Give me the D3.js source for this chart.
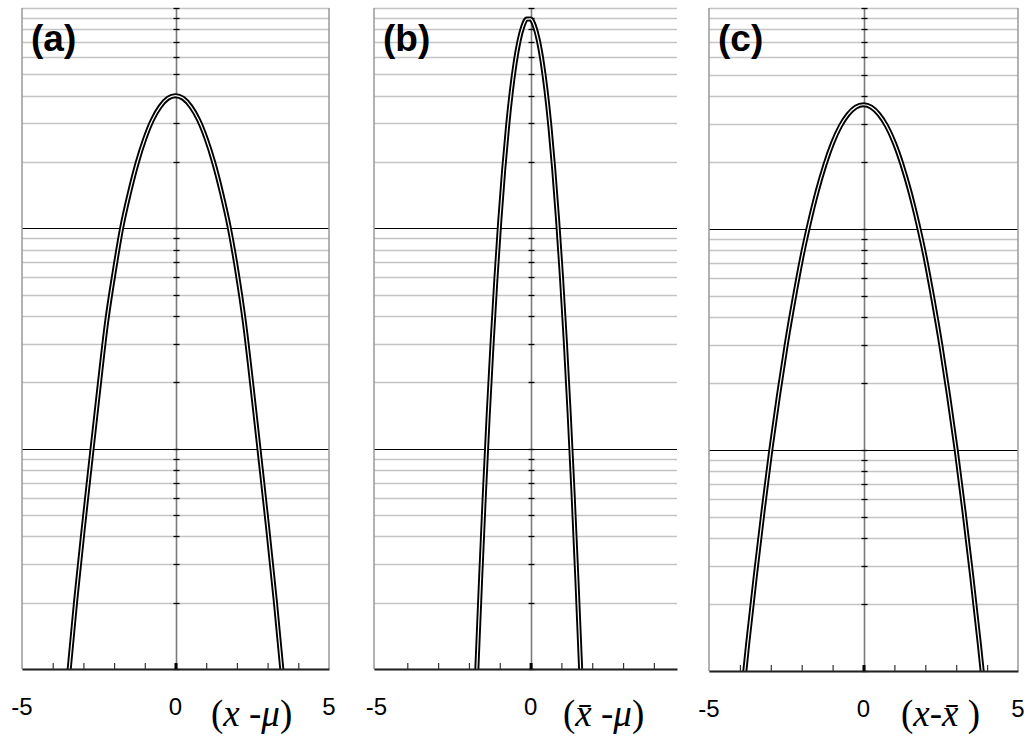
<!DOCTYPE html>
<html>
<head>
<meta charset="utf-8">
<script src="https://cdn.jsdelivr.net/npm/d3@7"></script>
<style>
  body { margin: 0; background: #fff; }
  svg { display: block; }
</style>
</head>
<body>
<script>
// values: density vs. deviation, log y axis
const xA = [-3.75, -3.5, -3.25, -3, -2.75, -2.5, -2.25, -2, -1.75, -1.5, -1.25, -1, -0.75, -0.5, -0.25,
  0, 0.25, 0.5, 0.75, 1, 1.25, 1.5, 1.75, 2, 2.25, 2.5, 2.75, 3, 3.25, 3.5, 3.75];
const yA = [0.00036, 0.00088, 0.00205, 0.0044, 0.0091, 0.0186, 0.037, 0.063, 0.101, 0.145, 0.198, 0.255, 0.311, 0.357, 0.389,
  0.400, 0.389, 0.357, 0.311, 0.255, 0.198, 0.145, 0.101, 0.064, 0.037, 0.0187, 0.0091, 0.0044, 0.00204, 0.00088, 0.00035];

const xB = [-2, -1.875, -1.75, -1.625, -1.5, -1.375, -1.25, -1.125, -1, -0.875, -0.75, -0.625, -0.5, -0.375, -0.25, -0.125,
  0, 0.125, 0.25, 0.375, 0.5, 0.625, 0.75, 0.875, 1, 1.125, 1.25, 1.375, 1.5, 1.625, 1.75];
const yB = [0.00011, 0.00033, 0.00095, 0.0025, 0.0062, 0.0142, 0.030, 0.059, 0.108, 0.183, 0.287, 0.418, 0.565, 0.709, 0.825, 0.891,
  0.892, 0.829, 0.715, 0.571, 0.424, 0.292, 0.186, 0.110, 0.0607, 0.031, 0.0146, 0.0064, 0.0026, 0.00099, 0.00035];

const xC = [-4.25, -4, -3.75, -3.5, -3.25, -3, -2.75, -2.5, -2.25, -2, -1.75, -1.5, -1.25, -1, -0.75, -0.5, -0.25,
  0, 0.25, 0.5, 0.75, 1, 1.25, 1.5, 1.75, 2, 2.25, 2.5, 2.75, 3, 3.25, 3.5, 3.75, 4, 4.25];
const yC = [0.00027, 0.00061, 0.00132, 0.0027, 0.0053, 0.0100, 0.0177, 0.030, 0.048, 0.074, 0.107, 0.148, 0.195, 0.245, 0.292, 0.330, 0.356,
  0.365, 0.356, 0.330, 0.292, 0.245, 0.195, 0.148, 0.107, 0.074, 0.048, 0.030, 0.0177, 0.0100, 0.0053, 0.0027, 0.00132, 0.00061, 0.00027];

const panelLabels = ['(a)', '(b)', '(c)'];
const tickLabelsA = [-5, 0, 5];
const tickLabelsB = [-5, 0];
const tickLabelsC = [-5, 0, 5];
const minorTicks = [-4, -3, -2, -1, 0, 1, 2, 3, 4];
const yDomain = [0.001, 1];

const width = 1028, height = 736;

const svg = d3.select('body')
  .append('svg')
  .attr('width', width)
  .attr('height', height);

const panels = [
  { label: panelLabels[0], xs: xA, ys: yA, ticks: tickLabelsA, xDom: [-5, 5], left: 22, right: 329, bottom: 669,
    frameRight: true, titleX: 211 },
  { label: panelLabels[1], xs: xB, ys: yB, ticks: tickLabelsB, xDom: [-5.08, 4.75], left: 374, right: 677, bottom: 669,
    frameRight: false, titleX: 563 },
  { label: panelLabels[2], xs: xC, ys: yC, ticks: tickLabelsC, xDom: [-5, 5], left: 709, right: 1018, bottom: 671,
    frameRight: true, titleX: 901 }
];

const plotTop = 8;

panels.forEach((p, i) => {
  let xScale = d3.scaleLinear().domain(p.xDom).range([p.left, p.right]);
  let yScale = d3.scaleLog().domain(yDomain).range([p.bottom, plotTop]);

  let g = svg.append('g');

  // grid lines, decades in black
  let gridVals = yScale.ticks();
  let isDecade = d => {
    let e = Math.log10(d);
    return Math.abs(e - Math.round(e)) < 1e-9 && d < 1 && d > 0.001;
  };
  g.selectAll('line.grid')
    .data(gridVals)
    .enter()
    .append('line')
    .attr('class', 'grid')
    .attr('x1', p.left)
    .attr('x2', p.right)
    .attr('y1', d => Math.round(yScale(d)) + 0.5)
    .attr('y2', d => Math.round(yScale(d)) + 0.5)
    .attr('stroke', d => isDecade(d) ? '#000' : '#c4c4c4')
    .attr('stroke-width', d => isDecade(d) ? 1 : 1.3);

  // frame sides
  g.append('line')
    .attr('x1', p.left).attr('x2', p.left)
    .attr('y1', plotTop).attr('y2', p.bottom)
    .attr('stroke', '#999').attr('stroke-width', 1.5);
  if (p.frameRight) {
    g.append('line')
      .attr('x1', p.right).attr('x2', p.right)
      .attr('y1', plotTop).attr('y2', p.bottom)
      .attr('stroke', '#999').attr('stroke-width', 1.5);
  }

  // vertical axis at zero
  let x0 = Math.round(xScale(0)) + 0.5;
  g.append('line')
    .attr('x1', x0).attr('x2', x0)
    .attr('y1', plotTop).attr('y2', p.bottom)
    .attr('stroke', '#7a7a7a').attr('stroke-width', 1.6);
  g.selectAll('line.ytick')
    .data(gridVals)
    .enter()
    .append('line')
    .attr('class', 'ytick')
    .attr('x1', x0 - 3).attr('x2', x0 + 3)
    .attr('y1', d => Math.round(yScale(d)) + 0.5)
    .attr('y2', d => Math.round(yScale(d)) + 0.5)
    .attr('stroke', '#000').attr('stroke-width', 1.3);

  // curve
  let clipId = 'clip' + i;
  svg.append('clipPath').attr('id', clipId)
    .append('rect')
    .attr('x', p.left).attr('y', plotTop - 4)
    .attr('width', p.right - p.left).attr('height', p.bottom - plotTop + 4);

  let pts = p.xs.map((x, k) => [x, p.ys[k]]);
  let line = d3.line()
    .x(d => xScale(d[0]))
    .y(d => yScale(d[1]))
    .curve(d3.curveMonotoneX);

  let cg = g.append('g').attr('clip-path', `url(#${clipId})`);
  cg.append('path')
    .datum(pts)
    .attr('d', line)
    .attr('fill', 'none')
    .attr('stroke', '#000')
    .attr('stroke-width', 5);
  cg.append('path')
    .datum(pts)
    .attr('d', line)
    .attr('fill', 'none')
    .attr('stroke', '#fff')
    .attr('stroke-width', 1.2);

  // bottom axis
  let axis = g.append('g')
    .attr('transform', `translate(0, ${p.bottom})`)
    .call(d3.axisBottom(xScale).tickValues(minorTicks).tickSize(-6).tickSizeOuter(0).tickFormat(''));
  axis.select('.domain').attr('stroke', '#222').attr('stroke-width', 2);
  axis.selectAll('.tick line').attr('stroke', '#333').attr('stroke-width', 1.2);
  axis.selectAll('.tick')
    .filter(d => d === 0)
    .select('line')
    .attr('stroke', '#000')
    .attr('stroke-width', 3);

  // tick labels
  g.selectAll('text.tl')
    .data(p.ticks)
    .enter()
    .append('text')
    .attr('class', 'tl')
    .attr('x', d => xScale(d))
    .attr('y', p.bottom + 46)
    .attr('text-anchor', 'middle')
    .style('font-family', 'Liberation Sans, Arial, sans-serif')
    .style('font-size', '24px')
    .text(d => d);

  // panel label
  g.append('text')
    .attr('x', p.left + 9)
    .attr('y', 51)
    .style('font-family', 'Liberation Sans, Arial, sans-serif')
    .style('font-size', '37px')
    .style('font-weight', 'bold')
    .text(p.label);
});

// axis titles
function title(x, parts) {
  let t = svg.append('text')
    .attr('x', x)
    .attr('y', 726)
    .style('font-family', 'Liberation Serif, Times New Roman, serif')
    .style('font-size', '37px');
  parts.forEach(pt => {
    t.append('tspan')
      .style('font-style', pt[1] ? 'italic' : 'normal')
      .text(pt[0]);
  });
}
title(panels[0].titleX, [['(', 0], ['x', 1], [' -', 0], ['\u03bc', 1], [')', 0]]);
title(panels[1].titleX, [['(', 0], ['x\u0304', 1], [' -', 0], ['\u03bc', 1], [')', 0]]);
title(panels[2].titleX, [['(', 0], ['x', 1], ['-', 0], ['x\u0304', 1], [' )', 0]]);
</script>
</body>
</html>
